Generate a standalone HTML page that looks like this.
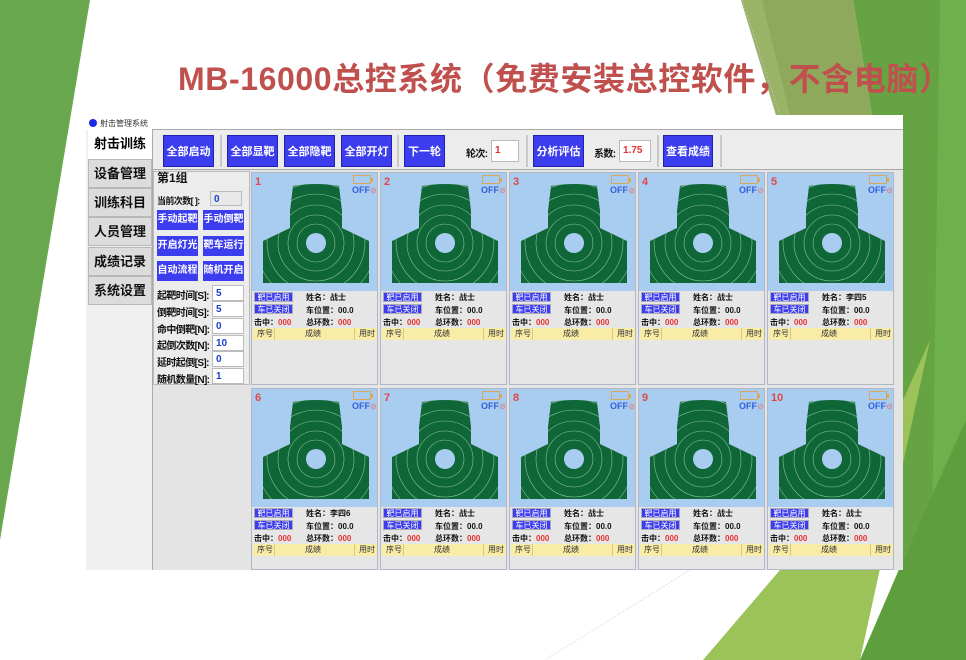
<!DOCTYPE html>
<html><head><meta charset="utf-8">
<style>
*{margin:0;padding:0;box-sizing:border-box}
body{width:966px;height:660px;position:relative;overflow:hidden;background:#fff;font-family:"Liberation Sans","Noto Sans CJK SC",sans-serif;}
.a{position:absolute}
.title{left:178px;top:54px;font-size:32px;font-weight:bold;color:#c0504d;white-space:nowrap;letter-spacing:0.6px}
.app{left:86px;top:115px;width:817px;height:455px;background:#f0f0f0}
.tab{left:2px;width:64px;height:29px;background:#dcdcdc;border:1px solid #b8b8b8;font-size:13px;font-weight:bold;text-align:center;line-height:27px;color:#111}
.tb{height:32px;background:#3d3df0;color:#fff;font-size:11px;font-weight:bold;text-align:center;line-height:32px;border:1px solid #2222b0}
.sep{width:2px;height:32px;background:#c8c8c8}
.lb{font-size:10px;font-weight:bold;color:#111;white-space:nowrap;letter-spacing:-0.6px}
.in{background:#fff;border:1px solid #bbb;font-size:10px;font-weight:bold;color:#1a3fd0;padding-left:3px;line-height:15px}
.sb{width:41px;height:20px;background:#3d3df0;color:#fff;font-size:10px;font-weight:bold;text-align:center;line-height:20px}
.card{width:127px;background:#e6e6e6;border:1px solid #b0b8c8;overflow:hidden}
.bl{left:0;top:0;width:127px;height:118px;background:#a9cdf0}
.num{left:3px;top:3px;font-size:11px;font-weight:bold;color:#e04848}
.bat{left:101px;top:2px;width:18px;height:9px;border:1.5px solid #d9a85c}
.nub{left:119px;top:5px;width:2px;height:4px;background:#d9a85c}
.off{left:100px;top:12px;font-size:9px;font-weight:bold;color:#3060e0}
.off span{color:#e08080;font-size:7px}
.b1{left:2px;width:39px;height:10px;background:#3d3df0;color:#fff;font-size:8px;text-align:center;line-height:10px;border:1px solid #aab}
.t{font-size:8px;font-weight:bold;color:#111;white-space:nowrap}
.r{color:#e83030}
.yl{left:1px;width:124px;height:12px;background:#f8eca6;font-size:8px;color:#333;line-height:12px}
.yl i{position:absolute;top:0;height:12px;width:1px;background:#d8c880}
</style></head><body>
<svg class="a" style="left:0;top:0" width="966" height="660">
<polygon points="0,0 90,0 0,540" fill="#6aa84f"/>
<polygon points="741,0 853,0 872,115 776,115" fill="#8fa95c"/>
<polygon points="741,0 762,0 790,115 776,115" fill="#9ab467"/>
<polygon points="853,0 966,0 966,660 860,660 903,560 903,115 872,115" fill="#66a342"/>
<polygon points="940,0 966,0 966,660 930,660" fill="#6db04c"/>
<polygon points="703,660 780,570 903,570 903,400 930,340 860,660" fill="#9cc25a"/>
<polygon points="860,660 930,500 966,420 966,660" fill="#5e9e3c"/>
<line x1="742" y1="0" x2="780" y2="115" stroke="#bbb" stroke-dasharray="2,2"/>
<line x1="690" y1="570" x2="545" y2="660" stroke="#ccc" stroke-dasharray="1,2"/>
</svg>
<div class="a title">MB-16000总控系统（免费安装总控软件，不含电脑）</div>

<div class="a app">
 <div class="a" style="left:0;top:0;width:817px;height:15px;background:#fff"></div>
 <div class="a" style="left:3px;top:4px;width:8px;height:8px;border-radius:50%;background:#1a2ae0"></div>
 <div class="a" style="left:14px;top:3px;font-size:8px;color:#333">射击管理系统</div>
 <div class="a" style="left:0;top:15px;width:66px;height:440px;background:#f0f0f0"></div>
 <div class="a" style="left:2px;top:14px;width:64px;height:30px;background:#fff;font-size:13px;font-weight:bold;text-align:center;line-height:30px">射击训练</div>
 <div class="a tab" style="top:44px">设备管理</div>
 <div class="a tab" style="top:73px">训练科目</div>
 <div class="a tab" style="top:102px">人员管理</div>
 <div class="a tab" style="top:132px">成绩记录</div>
 <div class="a tab" style="top:161px">系统设置</div>
 <div class="a" style="left:66px;top:14px;width:751px;height:441px;background:#e4e4e4;border-left:1px solid #aaa;border-top:1px solid #aaa"></div>
 <div class="a" style="left:67px;top:15px;width:750px;height:40px;background:#ececec;border-bottom:1px solid #aaa"></div>
 <div class="a tb" style="left:77px;top:20px;width:51px">全部启动</div>
 <div class="a sep" style="left:134px;top:20px"></div>
 <div class="a tb" style="left:141px;top:20px;width:51px">全部显靶</div>
 <div class="a tb" style="left:198px;top:20px;width:51px">全部隐靶</div>
 <div class="a tb" style="left:255px;top:20px;width:51px">全部开灯</div>
 <div class="a sep" style="left:311px;top:20px"></div>
 <div class="a tb" style="left:318px;top:20px;width:41px">下一轮</div>
 <div class="a lb" style="left:380px;top:30px">轮次:</div>
 <div class="a in" style="left:405px;top:25px;width:28px;height:22px;color:#e03030;line-height:20px">1</div>
 <div class="a sep" style="left:440px;top:20px"></div>
 <div class="a tb" style="left:447px;top:20px;width:51px">分析评估</div>
 <div class="a lb" style="left:508px;top:30px">系数:</div>
 <div class="a in" style="left:533px;top:25px;width:32px;height:22px;color:#e03030;line-height:20px">1.75</div>
 <div class="a sep" style="left:571px;top:20px"></div>
 <div class="a tb" style="left:577px;top:20px;width:50px">查看成绩</div>
 <div class="a sep" style="left:634px;top:20px"></div>
 <!-- left panel -->
 <div class="a" style="left:67px;top:56px;width:97px;height:214px;background:#ececec;border:1px solid #bbb"></div>
 <div class="a" style="left:71px;top:54px;font-size:12px;font-weight:bold;color:#111">第1组</div>
 <div class="a lb" style="left:71px;top:79px;font-size:9px">当前次数[ ]:</div>
 <div class="a in" style="left:124px;top:76px;width:32px;height:15px;background:#e8e8e8">0</div>
 <div class="a sb" style="left:71px;top:95px">手动起靶</div>
 <div class="a sb" style="left:117px;top:95px">手动倒靶</div>
 <div class="a sb" style="left:71px;top:121px">开启灯光</div>
 <div class="a sb" style="left:117px;top:121px">靶车运行</div>
 <div class="a sb" style="left:71px;top:146px">自动流程</div>
 <div class="a sb" style="left:117px;top:146px">随机开启</div>
 <div class="a lb" style="left:71px;top:172px">起靶时间[S]:</div><div class="a in" style="left:126px;top:170px;width:32px;height:16px">5</div>
 <div class="a lb" style="left:71px;top:189px">倒靶时间[S]:</div><div class="a in" style="left:126px;top:186px;width:32px;height:16px">5</div>
 <div class="a lb" style="left:71px;top:206px">命中倒靶[N]:</div><div class="a in" style="left:126px;top:203px;width:32px;height:16px">0</div>
 <div class="a lb" style="left:71px;top:222px">起倒次数[N]:</div><div class="a in" style="left:126px;top:220px;width:32px;height:16px">10</div>
 <div class="a lb" style="left:71px;top:239px">延时起倒[S]:</div><div class="a in" style="left:126px;top:236px;width:32px;height:16px">0</div>
 <div class="a lb" style="left:71px;top:256px">随机数量[N]:</div><div class="a in" style="left:126px;top:253px;width:32px;height:16px">1</div>
</div>

<svg width="0" height="0" style="position:absolute">
<defs>
<clipPath id="cp"><path d="M41,13 Q64,9 87,13 L90,38 L90,55 L117,68 L117,110 L11,110 L11,68 L38,55 L38,38 Z"/></clipPath>
<symbol id="tg" viewBox="0 0 127 118">
<path d="M41,13 Q64,9 87,13 L90,38 L90,55 L117,68 L117,110 L11,110 L11,68 L38,55 L38,38 Z" fill="#0f6636"/>
<g clip-path="url(#cp)" fill="none" stroke="#8fc0a0" stroke-width="0.6">
<circle cx="64" cy="70" r="19"/><circle cx="64" cy="70" r="28"/><circle cx="64" cy="70" r="38"/><circle cx="64" cy="70" r="49"/><circle cx="64" cy="70" r="60"/>
</g>
<circle cx="64" cy="70" r="10" fill="#a9cdf0"/>
</symbol>
</defs></svg>

<!-- cards row1 -->
<div class="a card" style="left:251px;top:172px;height:213px"><div class="a bl"></div><svg class="a" style="left:0;top:0" width="127" height="118"><use href="#tg"/></svg><div class="a num">1</div><div class="a bat"></div><div class="a nub"></div><div class="a off">OFF<span>⊘</span></div><div class="a b1" style="top:119px">靶已启用</div><div class="a t" style="left:54px;top:119px">姓名：战士</div><div class="a b1" style="top:131px">车已关闭</div><div class="a t" style="left:54px;top:132px">车位置：00.0</div><div class="a t" style="left:2px;top:144px">击中：<span class="r">000</span></div><div class="a t" style="left:54px;top:144px">总环数：<span class="r">000</span></div><div class="a yl" style="top:155px"><span class="a" style="left:4px">序号</span><i style="left:21px"></i><span class="a" style="left:52px">成绩</span><i style="left:101px"></i><span class="a" style="left:106px">用时</span></div></div>
<div class="a card" style="left:380px;top:172px;height:213px"><div class="a bl"></div><svg class="a" style="left:0;top:0" width="127" height="118"><use href="#tg"/></svg><div class="a num">2</div><div class="a bat"></div><div class="a nub"></div><div class="a off">OFF<span>⊘</span></div><div class="a b1" style="top:119px">靶已启用</div><div class="a t" style="left:54px;top:119px">姓名：战士</div><div class="a b1" style="top:131px">车已关闭</div><div class="a t" style="left:54px;top:132px">车位置：00.0</div><div class="a t" style="left:2px;top:144px">击中：<span class="r">000</span></div><div class="a t" style="left:54px;top:144px">总环数：<span class="r">000</span></div><div class="a yl" style="top:155px"><span class="a" style="left:4px">序号</span><i style="left:21px"></i><span class="a" style="left:52px">成绩</span><i style="left:101px"></i><span class="a" style="left:106px">用时</span></div></div>
<div class="a card" style="left:509px;top:172px;height:213px"><div class="a bl"></div><svg class="a" style="left:0;top:0" width="127" height="118"><use href="#tg"/></svg><div class="a num">3</div><div class="a bat"></div><div class="a nub"></div><div class="a off">OFF<span>⊘</span></div><div class="a b1" style="top:119px">靶已启用</div><div class="a t" style="left:54px;top:119px">姓名：战士</div><div class="a b1" style="top:131px">车已关闭</div><div class="a t" style="left:54px;top:132px">车位置：00.0</div><div class="a t" style="left:2px;top:144px">击中：<span class="r">000</span></div><div class="a t" style="left:54px;top:144px">总环数：<span class="r">000</span></div><div class="a yl" style="top:155px"><span class="a" style="left:4px">序号</span><i style="left:21px"></i><span class="a" style="left:52px">成绩</span><i style="left:101px"></i><span class="a" style="left:106px">用时</span></div></div>
<div class="a card" style="left:638px;top:172px;height:213px"><div class="a bl"></div><svg class="a" style="left:0;top:0" width="127" height="118"><use href="#tg"/></svg><div class="a num">4</div><div class="a bat"></div><div class="a nub"></div><div class="a off">OFF<span>⊘</span></div><div class="a b1" style="top:119px">靶已启用</div><div class="a t" style="left:54px;top:119px">姓名：战士</div><div class="a b1" style="top:131px">车已关闭</div><div class="a t" style="left:54px;top:132px">车位置：00.0</div><div class="a t" style="left:2px;top:144px">击中：<span class="r">000</span></div><div class="a t" style="left:54px;top:144px">总环数：<span class="r">000</span></div><div class="a yl" style="top:155px"><span class="a" style="left:4px">序号</span><i style="left:21px"></i><span class="a" style="left:52px">成绩</span><i style="left:101px"></i><span class="a" style="left:106px">用时</span></div></div>
<div class="a card" style="left:767px;top:172px;height:213px"><div class="a bl"></div><svg class="a" style="left:0;top:0" width="127" height="118"><use href="#tg"/></svg><div class="a num">5</div><div class="a bat"></div><div class="a nub"></div><div class="a off">OFF<span>⊘</span></div><div class="a b1" style="top:119px">靶已启用</div><div class="a t" style="left:54px;top:119px">姓名：李四5</div><div class="a b1" style="top:131px">车已关闭</div><div class="a t" style="left:54px;top:132px">车位置：00.0</div><div class="a t" style="left:2px;top:144px">击中：<span class="r">000</span></div><div class="a t" style="left:54px;top:144px">总环数：<span class="r">000</span></div><div class="a yl" style="top:155px"><span class="a" style="left:4px">序号</span><i style="left:21px"></i><span class="a" style="left:52px">成绩</span><i style="left:101px"></i><span class="a" style="left:106px">用时</span></div></div>
<!-- row2 -->
<div class="a card" style="left:251px;top:388px;height:182px"><div class="a bl"></div><svg class="a" style="left:0;top:0" width="127" height="118"><use href="#tg"/></svg><div class="a num">6</div><div class="a bat"></div><div class="a nub"></div><div class="a off">OFF<span>⊘</span></div><div class="a b1" style="top:119px">靶已启用</div><div class="a t" style="left:54px;top:119px">姓名：李四6</div><div class="a b1" style="top:131px">车已关闭</div><div class="a t" style="left:54px;top:132px">车位置：00.0</div><div class="a t" style="left:2px;top:144px">击中：<span class="r">000</span></div><div class="a t" style="left:54px;top:144px">总环数：<span class="r">000</span></div><div class="a yl" style="top:155px"><span class="a" style="left:4px">序号</span><i style="left:21px"></i><span class="a" style="left:52px">成绩</span><i style="left:101px"></i><span class="a" style="left:106px">用时</span></div></div>
<div class="a card" style="left:380px;top:388px;height:182px"><div class="a bl"></div><svg class="a" style="left:0;top:0" width="127" height="118"><use href="#tg"/></svg><div class="a num">7</div><div class="a bat"></div><div class="a nub"></div><div class="a off">OFF<span>⊘</span></div><div class="a b1" style="top:119px">靶已启用</div><div class="a t" style="left:54px;top:119px">姓名：战士</div><div class="a b1" style="top:131px">车已关闭</div><div class="a t" style="left:54px;top:132px">车位置：00.0</div><div class="a t" style="left:2px;top:144px">击中：<span class="r">000</span></div><div class="a t" style="left:54px;top:144px">总环数：<span class="r">000</span></div><div class="a yl" style="top:155px"><span class="a" style="left:4px">序号</span><i style="left:21px"></i><span class="a" style="left:52px">成绩</span><i style="left:101px"></i><span class="a" style="left:106px">用时</span></div></div>
<div class="a card" style="left:509px;top:388px;height:182px"><div class="a bl"></div><svg class="a" style="left:0;top:0" width="127" height="118"><use href="#tg"/></svg><div class="a num">8</div><div class="a bat"></div><div class="a nub"></div><div class="a off">OFF<span>⊘</span></div><div class="a b1" style="top:119px">靶已启用</div><div class="a t" style="left:54px;top:119px">姓名：战士</div><div class="a b1" style="top:131px">车已关闭</div><div class="a t" style="left:54px;top:132px">车位置：00.0</div><div class="a t" style="left:2px;top:144px">击中：<span class="r">000</span></div><div class="a t" style="left:54px;top:144px">总环数：<span class="r">000</span></div><div class="a yl" style="top:155px"><span class="a" style="left:4px">序号</span><i style="left:21px"></i><span class="a" style="left:52px">成绩</span><i style="left:101px"></i><span class="a" style="left:106px">用时</span></div></div>
<div class="a card" style="left:638px;top:388px;height:182px"><div class="a bl"></div><svg class="a" style="left:0;top:0" width="127" height="118"><use href="#tg"/></svg><div class="a num">9</div><div class="a bat"></div><div class="a nub"></div><div class="a off">OFF<span>⊘</span></div><div class="a b1" style="top:119px">靶已启用</div><div class="a t" style="left:54px;top:119px">姓名：战士</div><div class="a b1" style="top:131px">车已关闭</div><div class="a t" style="left:54px;top:132px">车位置：00.0</div><div class="a t" style="left:2px;top:144px">击中：<span class="r">000</span></div><div class="a t" style="left:54px;top:144px">总环数：<span class="r">000</span></div><div class="a yl" style="top:155px"><span class="a" style="left:4px">序号</span><i style="left:21px"></i><span class="a" style="left:52px">成绩</span><i style="left:101px"></i><span class="a" style="left:106px">用时</span></div></div>
<div class="a card" style="left:767px;top:388px;height:182px"><div class="a bl"></div><svg class="a" style="left:0;top:0" width="127" height="118"><use href="#tg"/></svg><div class="a num">10</div><div class="a bat"></div><div class="a nub"></div><div class="a off">OFF<span>⊘</span></div><div class="a b1" style="top:119px">靶已启用</div><div class="a t" style="left:54px;top:119px">姓名：战士</div><div class="a b1" style="top:131px">车已关闭</div><div class="a t" style="left:54px;top:132px">车位置：00.0</div><div class="a t" style="left:2px;top:144px">击中：<span class="r">000</span></div><div class="a t" style="left:54px;top:144px">总环数：<span class="r">000</span></div><div class="a yl" style="top:155px"><span class="a" style="left:4px">序号</span><i style="left:21px"></i><span class="a" style="left:52px">成绩</span><i style="left:101px"></i><span class="a" style="left:106px">用时</span></div></div>
</body></html>
